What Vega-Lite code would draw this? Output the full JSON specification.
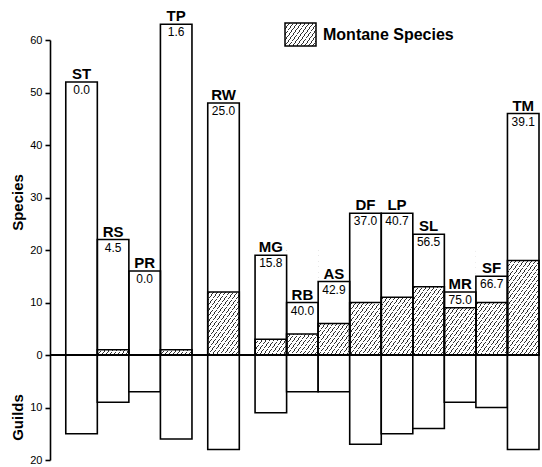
{
  "$schema": "https://vega.github.io/schema/vega-lite/v6.json",
  "autosize": {"type": "none"},
  "padding": {"left": 50, "top": 40, "right": 3, "bottom": 7},
  "width": 489,
  "height": 420,
  "background": "white",
  "config": {"view": {"stroke": null}, "font": "Liberation Sans"},
  "data": {"values": [
    {"cat": "ST", "species": 52, "montane": 0, "guilds": -15, "pct": "0.0"},
    {"cat": "RS", "species": 22, "montane": 1, "guilds": -9, "pct": "4.5"},
    {"cat": "PR", "species": 16, "montane": 0, "guilds": -7, "pct": "0.0"},
    {"cat": "TP", "species": 63, "montane": 1, "guilds": -16, "pct": "1.6"},
    {"cat": "RW", "species": 48, "montane": 12, "guilds": -18, "pct": "25.0"},
    {"cat": "MG", "species": 19, "montane": 3, "guilds": -11, "pct": "15.8"},
    {"cat": "RB", "species": 10, "montane": 4, "guilds": -7, "pct": "40.0"},
    {"cat": "AS", "species": 14, "montane": 6, "guilds": -7, "pct": "42.9"},
    {"cat": "DF", "species": 27, "montane": 10, "guilds": -17, "pct": "37.0"},
    {"cat": "LP", "species": 27, "montane": 11, "guilds": -15, "pct": "40.7"},
    {"cat": "SL", "species": 23, "montane": 13, "guilds": -14, "pct": "56.5"},
    {"cat": "MR", "species": 12, "montane": 9, "guilds": -9, "pct": "75.0"},
    {"cat": "SF", "species": 15, "montane": 10, "guilds": -10, "pct": "66.7"},
    {"cat": "TM", "species": 46, "montane": 18, "guilds": -18, "pct": "39.1"}
  ]},
  "resolve": {"axis": {"y": "independent"}},
  "layer": [
    {
      "mark": {"type": "bar", "width": {"band": 2}, "strokeWidth": 0,
        "fill": {"gradient": "linear", "x1": 0, "y1": 0, "x2": 0.5078, "y2": 1.2071, "stops": [
          {"offset": 0, "color": "#333"}, {"offset": 0.008, "color": "#333"}, {"offset": 0.008, "color": "#fff"}, {"offset": 0.037, "color": "#fff"},
          {"offset": 0.037, "color": "#333"}, {"offset": 0.045, "color": "#333"}, {"offset": 0.045, "color": "#fff"}, {"offset": 0.0741, "color": "#fff"},
          {"offset": 0.0741, "color": "#333"}, {"offset": 0.0821, "color": "#333"}, {"offset": 0.0821, "color": "#fff"}, {"offset": 0.1111, "color": "#fff"},
          {"offset": 0.1111, "color": "#333"}, {"offset": 0.1191, "color": "#333"}, {"offset": 0.1191, "color": "#fff"}, {"offset": 0.1481, "color": "#fff"},
          {"offset": 0.1481, "color": "#333"}, {"offset": 0.1561, "color": "#333"}, {"offset": 0.1561, "color": "#fff"}, {"offset": 0.1852, "color": "#fff"},
          {"offset": 0.1852, "color": "#333"}, {"offset": 0.1932, "color": "#333"}, {"offset": 0.1932, "color": "#fff"}, {"offset": 0.2222, "color": "#fff"},
          {"offset": 0.2222, "color": "#333"}, {"offset": 0.2302, "color": "#333"}, {"offset": 0.2302, "color": "#fff"}, {"offset": 0.2593, "color": "#fff"},
          {"offset": 0.2593, "color": "#333"}, {"offset": 0.2673, "color": "#333"}, {"offset": 0.2673, "color": "#fff"}, {"offset": 0.2963, "color": "#fff"},
          {"offset": 0.2963, "color": "#333"}, {"offset": 0.3043, "color": "#333"}, {"offset": 0.3043, "color": "#fff"}, {"offset": 0.3333, "color": "#fff"},
          {"offset": 0.3333, "color": "#333"}, {"offset": 0.3413, "color": "#333"}, {"offset": 0.3413, "color": "#fff"}, {"offset": 0.3704, "color": "#fff"},
          {"offset": 0.3704, "color": "#333"}, {"offset": 0.3784, "color": "#333"}, {"offset": 0.3784, "color": "#fff"}, {"offset": 0.4074, "color": "#fff"},
          {"offset": 0.4074, "color": "#333"}, {"offset": 0.4154, "color": "#333"}, {"offset": 0.4154, "color": "#fff"}, {"offset": 0.4444, "color": "#fff"},
          {"offset": 0.4444, "color": "#333"}, {"offset": 0.4524, "color": "#333"}, {"offset": 0.4524, "color": "#fff"}, {"offset": 0.4815, "color": "#fff"},
          {"offset": 0.4815, "color": "#333"}, {"offset": 0.4895, "color": "#333"}, {"offset": 0.4895, "color": "#fff"}, {"offset": 0.5185, "color": "#fff"},
          {"offset": 0.5185, "color": "#333"}, {"offset": 0.5265, "color": "#333"}, {"offset": 0.5265, "color": "#fff"}, {"offset": 0.5556, "color": "#fff"},
          {"offset": 0.5556, "color": "#333"}, {"offset": 0.5636, "color": "#333"}, {"offset": 0.5636, "color": "#fff"}, {"offset": 0.5926, "color": "#fff"},
          {"offset": 0.5926, "color": "#333"}, {"offset": 0.6006, "color": "#333"}, {"offset": 0.6006, "color": "#fff"}, {"offset": 0.6296, "color": "#fff"},
          {"offset": 0.6296, "color": "#333"}, {"offset": 0.6376, "color": "#333"}, {"offset": 0.6376, "color": "#fff"}, {"offset": 0.6667, "color": "#fff"},
          {"offset": 0.6667, "color": "#333"}, {"offset": 0.6747, "color": "#333"}, {"offset": 0.6747, "color": "#fff"}, {"offset": 0.7037, "color": "#fff"},
          {"offset": 0.7037, "color": "#333"}, {"offset": 0.7117, "color": "#333"}, {"offset": 0.7117, "color": "#fff"}, {"offset": 0.7407, "color": "#fff"},
          {"offset": 0.7407, "color": "#333"}, {"offset": 0.7487, "color": "#333"}, {"offset": 0.7487, "color": "#fff"}, {"offset": 0.7778, "color": "#fff"},
          {"offset": 0.7778, "color": "#333"}, {"offset": 0.7858, "color": "#333"}, {"offset": 0.7858, "color": "#fff"}, {"offset": 0.8148, "color": "#fff"},
          {"offset": 0.8148, "color": "#333"}, {"offset": 0.8228, "color": "#333"}, {"offset": 0.8228, "color": "#fff"}, {"offset": 0.8519, "color": "#fff"},
          {"offset": 0.8519, "color": "#333"}, {"offset": 0.8599, "color": "#333"}, {"offset": 0.8599, "color": "#fff"}, {"offset": 0.8889, "color": "#fff"},
          {"offset": 0.8889, "color": "#333"}, {"offset": 0.8969, "color": "#333"}, {"offset": 0.8969, "color": "#fff"}, {"offset": 0.9259, "color": "#fff"},
          {"offset": 0.9259, "color": "#333"}, {"offset": 0.9339, "color": "#333"}, {"offset": 0.9339, "color": "#fff"}, {"offset": 0.963, "color": "#fff"},
          {"offset": 0.963, "color": "#333"}, {"offset": 0.971, "color": "#333"}, {"offset": 0.971, "color": "#fff"}, {"offset": 1, "color": "#fff"}
        ]}},
      "encoding": {
        "x": {"field": "cat", "type": "nominal", "axis": null,
          "scale": {"domain": ["ST","a","RS","b","PR","c","TP","d","e","RW","f","g","MG","h","RB","i","AS","j","DF","k","LP","l","SL","m","MR","n","SF","o","TM"], "paddingInner": 0, "paddingOuter": 1, "align": 0.75}},
        "y": {"datum": 0, "type": "quantitative", "axis": null, "scale": {"domain": [-20, 60], "nice": false, "zero": false}},
        "y2": {"datum": 20}
      }
    },
    {
      "mark": {"type": "bar", "width": {"band": 2}, "fill": "white", "strokeWidth": 0},
      "encoding": {
        "x": {"field": "cat", "type": "nominal", "axis": null},
        "y": {"field": "montane", "type": "quantitative", "axis": null},
        "y2": {"datum": 20}
      }
    },
    {
      "mark": {"type": "bar", "width": {"band": 2}, "fillOpacity": 0, "strokeWidth": 1.6,
        "fill": {"gradient": "linear", "x1": 0, "y1": 0, "x2": 1.194, "y2": 0.633, "stops": [
              {"offset": 0, "color": "#333"}, {"offset": 0.02, "color": "#333"}, {"offset": 0.02, "color": "#fff"}, {"offset": 0.0833, "color": "#fff"},
              {"offset": 0.0833, "color": "#333"}, {"offset": 0.1033, "color": "#333"}, {"offset": 0.1033, "color": "#fff"}, {"offset": 0.1667, "color": "#fff"},
              {"offset": 0.1667, "color": "#333"}, {"offset": 0.1867, "color": "#333"}, {"offset": 0.1867, "color": "#fff"}, {"offset": 0.25, "color": "#fff"},
              {"offset": 0.25, "color": "#333"}, {"offset": 0.27, "color": "#333"}, {"offset": 0.27, "color": "#fff"}, {"offset": 0.3333, "color": "#fff"},
              {"offset": 0.3333, "color": "#333"}, {"offset": 0.3533, "color": "#333"}, {"offset": 0.3533, "color": "#fff"}, {"offset": 0.4167, "color": "#fff"},
              {"offset": 0.4167, "color": "#333"}, {"offset": 0.4367, "color": "#333"}, {"offset": 0.4367, "color": "#fff"}, {"offset": 0.5, "color": "#fff"},
              {"offset": 0.5, "color": "#333"}, {"offset": 0.52, "color": "#333"}, {"offset": 0.52, "color": "#fff"}, {"offset": 0.5833, "color": "#fff"},
              {"offset": 0.5833, "color": "#333"}, {"offset": 0.6033, "color": "#333"}, {"offset": 0.6033, "color": "#fff"}, {"offset": 0.6667, "color": "#fff"},
              {"offset": 0.6667, "color": "#333"}, {"offset": 0.6867, "color": "#333"}, {"offset": 0.6867, "color": "#fff"}, {"offset": 0.75, "color": "#fff"},
              {"offset": 0.75, "color": "#333"}, {"offset": 0.77, "color": "#333"}, {"offset": 0.77, "color": "#fff"}, {"offset": 0.8333, "color": "#fff"},
              {"offset": 0.8333, "color": "#333"}, {"offset": 0.8533, "color": "#333"}, {"offset": 0.8533, "color": "#fff"}, {"offset": 0.9167, "color": "#fff"},
              {"offset": 0.9167, "color": "#333"}, {"offset": 0.9367, "color": "#333"}, {"offset": 0.9367, "color": "#fff"}, {"offset": 1, "color": "#fff"}
            ]}},
      "encoding": {
        "x": {"field": "cat", "type": "nominal", "axis": null},
        "y": {"field": "montane", "type": "quantitative", "axis": null},
        "y2": {"datum": 0},
        "stroke": {"datum": "Montane Species", "scale": {"range": ["black"]},
          "legend": {"title": null, "orient": "none", "legendX": 234, "legendY": -22,
            "symbolType": "M-1,-0.742L1,-0.742L1,0.742L-1,0.742Z", "symbolSize": 961, "symbolStrokeWidth": 1.5, "symbolOpacity": 1,
            "labelFont": "Liberation Sans", "labelFontSize": 16, "labelFontWeight": "bold", "labelColor": "black", "labelOffset": 6}}
      }
    },
    {
      "mark": {"type": "bar", "width": {"band": 2}, "fillOpacity": 0, "stroke": "black", "strokeWidth": 1.6},
      "encoding": {
        "x": {"field": "cat", "type": "nominal", "axis": null},
        "y": {"field": "species", "type": "quantitative",
          "axis": {"orient": "left", "values": [-20, -10, 0, 10, 20, 30, 40, 50, 60], "labelExpr": "abs(datum.value)",
            "grid": false, "domainColor": "black", "domainWidth": 1.6, "tickColor": "black", "tickWidth": 1.6, "tickSize": 5,
            "labelColor": "black", "labelFont": "Liberation Sans", "labelFontSize": 11, "labelPadding": 3,
            "title": "Species", "titleFont": "Liberation Sans", "titleFontSize": 15, "titleFontWeight": "bold", "titleColor": "black",
            "titleX": -33, "titleY": 162, "titleBaseline": "middle", "titleAngle": -90, "titleAlign": "center"}},
        "y2": {"datum": 0}
      }
    },
    {
      "mark": {"type": "bar", "width": {"band": 2}, "fill": "white", "stroke": "black", "strokeWidth": 1.6},
      "encoding": {
        "x": {"field": "cat", "type": "nominal", "axis": null},
        "y": {"field": "guilds", "type": "quantitative",
          "axis": {"orient": "left", "labels": false, "ticks": false, "domain": false, "grid": false,
            "title": "Guilds", "titleFont": "Liberation Sans", "titleFontSize": 15, "titleFontWeight": "bold", "titleColor": "black",
            "titleX": -33, "titleY": 377, "titleBaseline": "middle", "titleAngle": -90, "titleAlign": "center"}},
        "y2": {"datum": 0}
      }
    },
    {
      "mark": {"type": "rule", "color": "black", "strokeWidth": 2},
      "encoding": {"y": {"datum": 0, "type": "quantitative", "axis": null}}
    },
    {
      "mark": {"type": "text", "font": "Liberation Sans", "fontSize": 15, "fontWeight": "bold", "baseline": "alphabetic", "dy": -3, "color": "black"},
      "encoding": {
        "x": {"field": "cat", "type": "nominal", "axis": null},
        "y": {"field": "species", "type": "quantitative", "axis": null},
        "text": {"field": "cat"}
      }
    },
    {
      "mark": {"type": "text", "font": "Liberation Sans", "fontSize": 12, "baseline": "top", "dy": 3, "color": "black"},
      "encoding": {
        "x": {"field": "cat", "type": "nominal", "axis": null},
        "y": {"field": "species", "type": "quantitative", "axis": null},
        "text": {"field": "pct"}
      }
    }
  ]
}
